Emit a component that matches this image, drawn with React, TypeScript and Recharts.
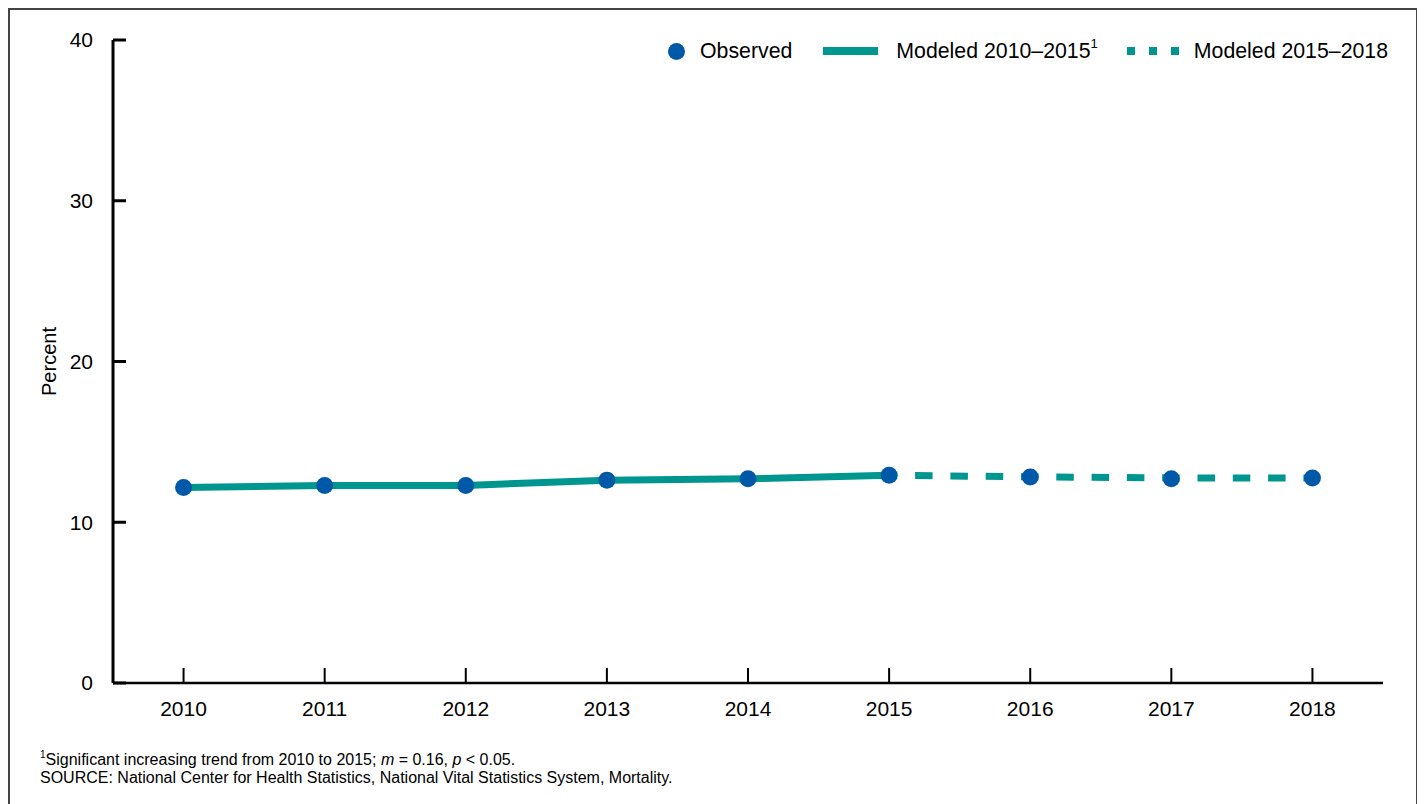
import { LineChart, Line, XAxis, YAxis, Label } from 'recharts'

// values
const years = [2010, 2011, 2012, 2013, 2014, 2015, 2016, 2017, 2018]
const observed = [12.16, 12.29, 12.29, 12.62, 12.7, 12.93, 12.81, 12.7, 12.75]
const modeledEarly = [12.16, 12.29, 12.29, 12.62, 12.7, 12.93, null, null, null]
const modeledLate = [null, null, null, null, null, 12.93, 12.82, 12.76, 12.75]
const yTicks = [0, 10, 20, 30, 40]

const BLUE = '#0058a8'
const TEAL = '#009690'
const FONT = '"Liberation Sans", Arial, sans-serif'

const data = years.map((year, i) => ({
  year,
  observed: observed[i],
  modeledEarly: modeledEarly[i],
  modeledLate: modeledLate[i],
}))

function ChartLegend() {
  return (
    <div
      style={{
        position: 'absolute', left: 658, top: 29, height: 24,
        display: 'flex', alignItems: 'center', fontSize: 21.3, color: '#000',
      }}
    >
      <svg width={17} height={17} style={{ marginRight: 15 }}>
        <circle cx={8.5} cy={8.5} r={8.5} fill={BLUE} />
      </svg>
      <span>Observed</span>
      <svg width={55} height={10} style={{ marginLeft: 31, marginRight: 18 }}>
        <line x1={0} y1={5} x2={55} y2={5} stroke={TEAL} strokeWidth={8} />
      </svg>
      <span>
        Modeled 2010–2015<sup style={{ fontSize: 13, position: 'relative', top: -2 }}>1</sup>
      </span>
      <svg width={52} height={10} style={{ marginLeft: 29, marginRight: 15 }}>
        <line x1={0} y1={5} x2={52} y2={5} stroke={TEAL} strokeWidth={8} strokeDasharray="8 14" />
      </svg>
      <span>Modeled 2015–2018</span>
    </div>
  )
}

export default function App() {
  return (
    <div
      style={{
        position: 'relative', width: 1410, height: 812, boxSizing: 'border-box',
        border: '2px solid #444', fontFamily: FONT, background: '#fff',
      }}
    >
      <LineChart width={1400} height={740} data={data} margin={{ top: 30, right: 27, left: 0, bottom: 7 }}>
        <XAxis
          dataKey="year"
          type="number"
          domain={[2009.5, 2018.5]}
          ticks={years}
          height={60}
          tickSize={-15}
          tickMargin={33}
          axisLine={{ stroke: '#000', strokeWidth: 2.5 }}
          tickLine={{ stroke: '#000', strokeWidth: 2 }}
          tick={{ fill: '#000', fontSize: 21, fontFamily: FONT }}
        />
        <YAxis
          domain={[0, 40]}
          ticks={yTicks}
          width={103}
          tickSize={-13}
          tickMargin={33}
          axisLine={{ stroke: '#000', strokeWidth: 3 }}
          tickLine={{ stroke: '#000', strokeWidth: 3 }}
          tick={{ fill: '#000', fontSize: 21, fontFamily: FONT }}
        >
          <Label value="Percent" angle={-90} position="center" dx={-13} style={{ fill: '#000', fontSize: 20, fontFamily: FONT }} />
        </YAxis>
        <Line
          dataKey="modeledEarly"
          stroke={TEAL}
          strokeWidth={7}
          dot={false}
          activeDot={false}
          connectNulls={false}
          isAnimationActive={false}
        />
        <Line
          dataKey="modeledLate"
          stroke={TEAL}
          strokeWidth={7}
          strokeDasharray="17.5 17.8"
          strokeDashoffset={9.3}
          dot={false}
          activeDot={false}
          isAnimationActive={false}
        />
        <Line
          dataKey="observed"
          stroke="none"
          dot={{ r: 8.5, fill: BLUE, stroke: 'none' }}
          activeDot={false}
          isAnimationActive={false}
        />
      </LineChart>
      <ChartLegend />
      <div style={{ position: 'absolute', left: 30, top: 737, fontSize: 16, lineHeight: '18px', color: '#000' }}>
        <div>
          <sup style={{ fontSize: 10, position: 'relative', top: -1 }}>1</sup>Significant increasing trend from 2010 to 2015; <i>m</i> = 0.16, <i>p</i> &lt; 0.05.
        </div>
        <div>SOURCE: National Center for Health Statistics, National Vital Statistics System, Mortality.</div>
      </div>
    </div>
  )
}
